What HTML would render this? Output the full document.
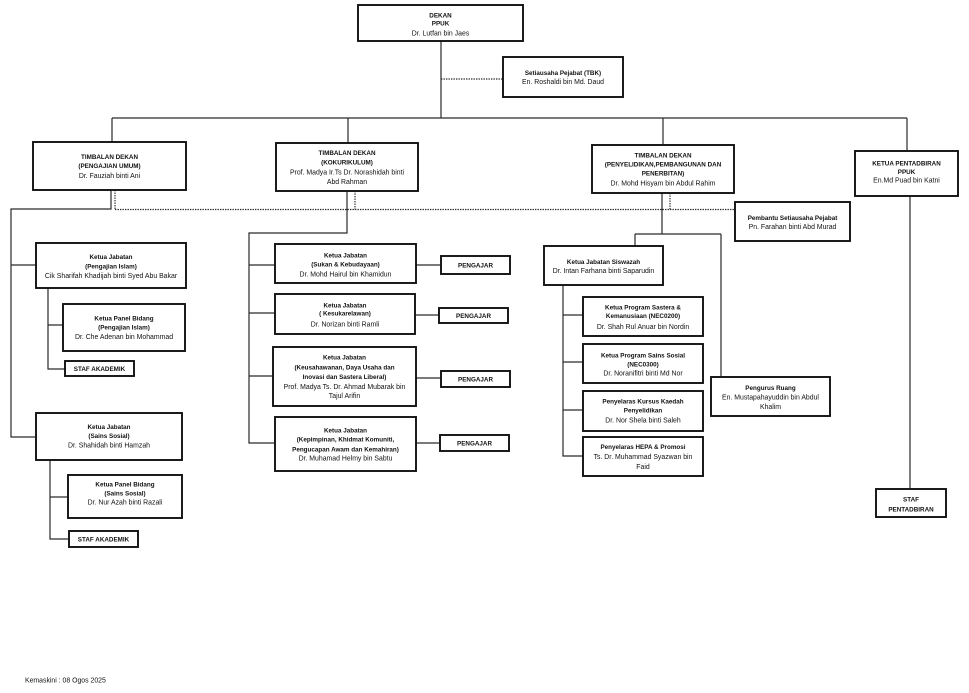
<!DOCTYPE html>
<html><head><meta charset="utf-8"><style>
html,body{margin:0;padding:0;background:#fff;}
svg{display:block;}
text{font-family:"Liberation Sans",Arial,sans-serif;fill:#111;text-anchor:middle;}
.b{font-weight:bold;font-size:6.3px;}
.n{font-size:6.9px;}
.box{fill:#fff;stroke:#111;stroke-width:1.9;}
.ln{stroke:#2a2a2a;stroke-width:1.2;fill:none;}
.dt{stroke:#2a2a2a;stroke-width:1.2;stroke-dasharray:1.4 1.1;fill:none;}
</style></head><body>
<svg width="969" height="693" viewBox="0 0 969 693" xmlns="http://www.w3.org/2000/svg">
<!-- connectors -->
<path class="ln" d="M441 41V118 M112 118H907 M112 118V142 M348 118V143 M663 118V145 M907 118V151"/>
<path class="dt" d="M441 79H503"/>
<path class="ln" d="M111 190V209H11V437H36 M11 265H36"/>
<path class="dt" d="M115 190V209.5 M115 209.5H735"/>
<path class="ln" d="M48 288V369H65 M48 325H63"/>
<path class="ln" d="M50 460V539H69 M50 497H68"/>
<path class="ln" d="M347 191V233H249V443H275 M249 265H275 M249 313H275 M249 376H273"/>
<path class="dt" d="M355 191V209.5"/>
<path class="ln" d="M416 265H441 M415 315H439 M416 378H441 M416 443H440"/>
<path class="ln" d="M662 193V234 M635 234H721 M635 234V246 M721 234V377"/>
<path class="dt" d="M670 193V209.5"/>
<path class="ln" d="M563 285V456H583 M563 315H583 M563 362H583 M563 410H583"/>
<path class="ln" d="M910 196V489"/>

<!-- DEKAN -->
<rect class="box" x="358" y="5" width="165" height="36"/>
<text class="b" x="440.5" y="17.3">DEKAN</text>
<text class="b" x="440.5" y="25.3">PPUK</text>
<text class="n" x="440.5" y="35.3">Dr. Lutfan bin Jaes</text>

<!-- TBK -->
<rect class="box" x="503" y="57" width="120" height="40"/>
<text class="b" x="563" y="75">Setiausaha Pejabat (TBK)</text>
<text class="n" x="563" y="84">En. Roshaldi bin Md. Daud</text>

<!-- TD1 -->
<rect class="box" x="33" y="142" width="153" height="48"/>
<text class="b" x="109.5" y="158.8">TIMBALAN DEKAN</text>
<text class="b" x="109.5" y="168">(PENGAJIAN UMUM)</text>
<text class="n" x="109.5" y="178">Dr. Fauziah binti Ani</text>

<!-- TD2 -->
<rect class="box" x="276" y="143" width="142" height="48"/>
<text class="b" x="347" y="155">TIMBALAN DEKAN</text>
<text class="b" x="347" y="164.6">(KOKURIKULUM)</text>
<text class="n" x="347" y="174.6">Prof. Madya  Ir.Ts Dr. Norashidah binti</text>
<text class="n" x="347" y="184">Abd Rahman</text>

<!-- TD3 -->
<rect class="box" x="592" y="145" width="142" height="48"/>
<text class="b" x="663" y="157.3">TIMBALAN DEKAN</text>
<text class="b" x="663" y="166.6">(PENYELIDIKAN,PEMBANGUNAN DAN</text>
<text class="b" x="663" y="175.6">PENERBITAN)</text>
<text class="n" x="663" y="185.6">Dr. Mohd Hisyam bin Abdul Rahim</text>

<!-- Ketua Pentadbiran -->
<rect class="box" x="855" y="151" width="103" height="45"/>
<text class="b" x="906.5" y="165.6">KETUA PENTADBIRAN</text>
<text class="b" x="906.5" y="174">PPUK</text>
<text class="n" x="906.5" y="182.3">En.Md Puad bin Katni</text>

<!-- Pembantu -->
<rect class="box" x="735" y="202" width="115" height="39"/>
<text class="b" x="792.5" y="220">Pembantu Setiausaha Pejabat</text>
<text class="n" x="792.5" y="229">Pn. Farahan binti Abd Murad</text>

<!-- Pengajian Islam -->
<rect class="box" x="36" y="243" width="150" height="45"/>
<text class="b" x="111" y="259">Ketua Jabatan</text>
<text class="b" x="111" y="268.3">(Pengajian Islam)</text>
<text class="n" x="111" y="278">Cik Sharifah Khadijah binti Syed Abu Bakar</text>

<rect class="box" x="63" y="304" width="122" height="47"/>
<text class="b" x="124" y="320.6">Ketua Panel Bidang</text>
<text class="b" x="124" y="329.6">(Pengajian Islam)</text>
<text class="n" x="124" y="339">Dr. Che Adenan bin Mohammad</text>

<rect class="box" x="65" y="361" width="69" height="15"/>
<text class="b" x="99.5" y="371">STAF AKADEMIK</text>

<!-- Sains Sosial -->
<rect class="box" x="36" y="413" width="146" height="47"/>
<text class="b" x="109" y="429">Ketua Jabatan</text>
<text class="b" x="109" y="438">(Sains Sosial)</text>
<text class="n" x="109" y="447.3">Dr. Shahidah binti Hamzah</text>

<rect class="box" x="68" y="475" width="114" height="43"/>
<text class="b" x="125" y="486.3">Ketua Panel Bidang</text>
<text class="b" x="125" y="495.6">(Sains Sosial)</text>
<text class="n" x="125" y="504.6">Dr. Nur Azah binti Razali</text>

<rect class="box" x="69" y="531" width="69" height="16"/>
<text class="b" x="103.5" y="541.3">STAF AKADEMIK</text>

<!-- Kokurikulum depts -->
<rect class="box" x="275" y="244" width="141" height="39"/>
<text class="b" x="345.5" y="257.3">Ketua Jabatan</text>
<text class="b" x="345.5" y="266.3">(Sukan &amp; Kebudayaan)</text>
<text class="n" x="345.5" y="276.3">Dr. Mohd Hairul bin Khamidun</text>
<rect class="box" x="441" y="256" width="69" height="18"/>
<text class="b" x="475.5" y="267.3">PENGAJAR</text>

<rect class="box" x="275" y="294" width="140" height="40"/>
<text class="b" x="345" y="307.3">Ketua Jabatan</text>
<text class="b" x="345" y="315.6">( Kesukarelawan)</text>
<text class="n" x="345" y="326.3">Dr. Norizan binti Ramli</text>
<rect class="box" x="439" y="308" width="69" height="15"/>
<text class="b" x="473.5" y="317.8">PENGAJAR</text>

<rect class="box" x="273" y="347" width="143" height="59"/>
<text class="b" x="344.5" y="359.6">Ketua Jabatan</text>
<text class="b" x="344.5" y="369.6">(Keusahawanan, Daya Usaha dan</text>
<text class="b" x="344.5" y="379">Inovasi dan Sastera Liberal)</text>
<text class="n" x="344.5" y="389">Prof. Madya Ts. Dr. Ahmad Mubarak bin</text>
<text class="n" x="344.5" y="398">Tajul Arifin</text>
<rect class="box" x="441" y="371" width="69" height="16"/>
<text class="b" x="475.5" y="381.3">PENGAJAR</text>

<rect class="box" x="275" y="417" width="141" height="54"/>
<text class="b" x="345.5" y="432.3">Ketua Jabatan</text>
<text class="b" x="345.5" y="441.6">(Kepimpinan, Khidmat Komuniti,</text>
<text class="b" x="345.5" y="451.3">Pengucapan Awam dan Kemahiran)</text>
<text class="n" x="345.5" y="460.6">Dr. Muhamad Helmy bin Sabtu</text>
<rect class="box" x="440" y="435" width="69" height="16"/>
<text class="b" x="474.5" y="445.3">PENGAJAR</text>

<!-- Siswazah -->
<rect class="box" x="544" y="246" width="119" height="39"/>
<text class="b" x="603.5" y="264">Ketua Jabatan Siswazah</text>
<text class="n" x="603.5" y="273">Dr. Intan Farhana binti Saparudin</text>

<rect class="box" x="583" y="297" width="120" height="39"/>
<text class="b" x="643" y="309.6">Ketua Program Sastera &amp;</text>
<text class="b" x="643" y="318">Kemanusiaan (NEC0200)</text>
<text class="n" x="643" y="329">Dr. Shah Rul Anuar bin Nordin</text>

<rect class="box" x="583" y="344" width="120" height="39"/>
<text class="b" x="643" y="357.3">Ketua Program Sains Sosial</text>
<text class="b" x="643" y="366.3">(NEC0300)</text>
<text class="n" x="643" y="375.6">Dr. Noranifitri binti Md Nor</text>

<rect class="box" x="583" y="391" width="120" height="40"/>
<text class="b" x="643" y="403.3">Penyelaras Kursus Kaedah</text>
<text class="b" x="643" y="412.3">Penyelidikan</text>
<text class="n" x="643" y="422.3">Dr. Nor Shela binti Saleh</text>

<rect class="box" x="583" y="437" width="120" height="39"/>
<text class="b" x="643" y="449">Penyelaras HEPA &amp; Promosi</text>
<text class="n" x="643" y="459">Ts. Dr. Muhammad Syazwan bin</text>
<text class="n" x="643" y="469">Faid</text>

<!-- Pengurus Ruang -->
<rect class="box" x="711" y="377" width="119" height="39"/>
<text class="b" x="770.5" y="390">Pengurus Ruang</text>
<text class="n" x="770.5" y="399.6">En. Mustapahayuddin bin Abdul</text>
<text class="n" x="770.5" y="409">Khalim</text>

<!-- Staf Pentadbiran -->
<rect class="box" x="876" y="489" width="70" height="28"/>
<text class="b" x="911" y="501.3">STAF</text>
<text class="b" x="911" y="511.3">PENTADBIRAN</text>

<!-- footer -->
<text class="n" x="25" y="682.3" style="text-anchor:start">Kemaskini : 08 Ogos 2025</text>
</svg>
</body></html>
